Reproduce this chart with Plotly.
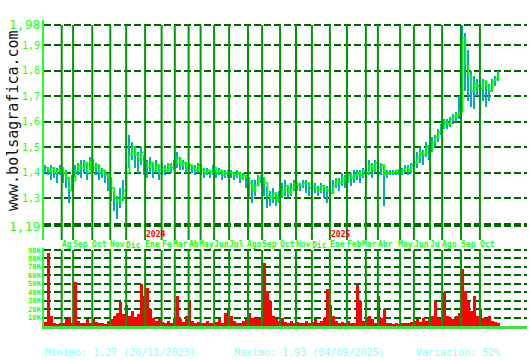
import plotly.graph_objects as go

# ---------------- data ----------------
cierre = [1.42,1.41,1.42,1.40,1.41,1.42,1.40,1.38,1.33,1.37,
          1.41,1.43,1.42,1.44,1.40,1.45,1.42,1.43,1.40,1.41,
          1.39,1.38,1.34,1.30,1.28,1.30,1.33,1.40,1.47,1.50,
          1.47,1.45,1.48,1.44,1.42,1.44,1.41,1.43,1.40,1.42,
          1.41,1.43,1.42,1.44,1.46,1.43,1.44,1.42,1.43,1.42,
          1.41,1.43,1.41,1.40,1.41,1.40,1.42,1.40,1.41,1.39,
          1.40,1.40,1.40,1.39,1.40,1.38,1.39,1.38,1.36,1.33,
          1.35,1.38,1.38,1.36,1.31,1.30,1.32,1.29,1.31,1.33,
          1.35,1.32,1.34,1.36,1.35,1.35,1.36,1.36,1.34,1.35,
          1.34,1.33,1.35,1.34,1.33,1.32,1.35,1.37,1.36,1.38,
          1.37,1.39,1.38,1.39,1.40,1.39,1.41,1.40,1.43,1.41,
          1.44,1.42,1.43,1.39,1.40,1.40,1.40,1.41,1.40,1.41,
          1.42,1.41,1.43,1.44,1.46,1.48,1.47,1.50,1.49,1.52,
          1.54,1.56,1.58,1.60,1.59,1.61,1.62,1.63,1.64,1.93,
          1.82,1.78,1.72,1.75,1.74,1.73,1.76,1.74,1.72,1.76,
          1.77,1.79]
minimo = [1.40,1.39,1.37,1.38,1.36,1.39,1.36,1.34,1.28,1.33,
          1.38,1.39,1.38,1.40,1.37,1.41,1.40,1.39,1.37,1.38,
          1.36,1.33,1.29,1.25,1.22,1.26,1.29,1.35,1.42,1.45,
          1.42,1.40,1.43,1.39,1.38,1.40,1.38,1.40,1.37,1.39,
          1.39,1.40,1.40,1.41,1.42,1.41,1.41,1.40,1.41,1.40,
          1.39,1.40,1.39,1.38,1.39,1.38,1.39,1.38,1.39,1.37,
          1.38,1.38,1.38,1.37,1.38,1.36,1.37,1.34,1.30,1.28,
          1.31,1.35,1.36,1.31,1.26,1.27,1.28,1.27,1.28,1.30,
          1.31,1.30,1.31,1.33,1.33,1.33,1.34,1.32,1.31,1.33,
          1.32,1.31,1.32,1.30,1.28,1.21,1.32,1.34,1.33,1.35,
          1.34,1.36,1.35,1.36,1.37,1.36,1.38,1.37,1.39,1.38,
          1.40,1.38,1.39,1.27,1.38,1.39,1.39,1.39,1.39,1.39,
          1.40,1.39,1.40,1.41,1.42,1.44,1.43,1.46,1.45,1.48,
          1.50,1.52,1.55,1.57,1.57,1.58,1.59,1.60,1.61,1.65,
          1.72,1.68,1.66,1.65,1.70,1.62,1.68,1.66,1.68,1.72,
          1.74,1.76]
maximo = [1.43,1.42,1.43,1.42,1.42,1.43,1.42,1.41,1.38,1.39,
          1.43,1.44,1.45,1.45,1.44,1.46,1.45,1.44,1.43,1.42,
          1.41,1.40,1.36,1.33,1.31,1.34,1.37,1.44,1.55,1.52,
          1.50,1.48,1.50,1.47,1.45,1.46,1.44,1.45,1.43,1.44,
          1.43,1.44,1.44,1.45,1.48,1.46,1.45,1.44,1.44,1.43,
          1.43,1.44,1.42,1.42,1.42,1.41,1.43,1.41,1.42,1.41,
          1.41,1.41,1.41,1.40,1.41,1.40,1.40,1.39,1.38,1.37,
          1.37,1.39,1.39,1.38,1.35,1.33,1.34,1.32,1.33,1.36,
          1.37,1.35,1.36,1.37,1.36,1.36,1.37,1.37,1.36,1.36,
          1.36,1.35,1.36,1.35,1.35,1.36,1.37,1.38,1.38,1.40,
          1.39,1.40,1.40,1.41,1.41,1.41,1.42,1.42,1.45,1.44,
          1.45,1.44,1.44,1.43,1.41,1.41,1.41,1.41,1.41,1.42,
          1.43,1.43,1.44,1.46,1.48,1.50,1.49,1.52,1.51,1.54,
          1.55,1.57,1.59,1.61,1.61,1.62,1.63,1.64,1.70,1.98,
          1.95,1.88,1.80,1.78,1.77,1.76,1.77,1.76,1.75,1.77,
          1.78,1.80]
volumen_k = [5,87,12,3,2,4,3,8,10,4,
             52,6,4,3,8,3,10,5,4,3,
             2,6,8,12,15,29,14,25,12,18,
             10,14,50,35,45,20,10,6,8,5,
             4,6,3,10,35,8,5,12,30,6,
             4,5,3,4,6,3,4,5,8,4,
             15,20,12,6,4,3,6,8,15,10,
             10,8,8,75,42,30,12,8,6,10,
             5,4,6,3,5,4,3,6,4,5,
             8,4,6,10,44,25,12,6,4,5,
             3,6,4,3,48,30,6,10,12,8,
             4,35,10,20,4,3,2,3,2,3,
             4,3,5,6,8,5,10,6,8,12,
             30,10,8,40,12,10,8,12,15,68,
             42,30,18,35,12,20,10,8,12,6,
             5,4]

meses = ["Ag","Sep","Oct","Nov","Dic","Ene","Fe","Mar","Ab","May","Jun","Jul",
         "Ago","Sep","Oct","Nov","Dic","Ene","Feb","Mar","Abr","May","Jun","Ju",
         "Ago","Sep","Oct"]
mes_inicio = [5.4,9.2,15.6,21.6,26.9,33.2,38.7,43.1,47.7,51.7,56.2,61.2,
              67.5,72.2,78.2,83.5,88.8,94.8,100.5,106.8,110.8,118.2,122.8,128.2,
              132.2,138.5,144.8]
anios = ["2024", "2025"]
anio_inicio = [33.2, 94.8]

precio_ticks = [1.98,1.9,1.8,1.7,1.6,1.5,1.4,1.3,1.2,1.19]
precio_labels = ["1,98","1,9","1,8","1,7","1,6","1,5","1,4","1,3","","1,19"]
vol_ticks = [10,20,30,40,50,60,70,80,90]
vol_labels = ["10K","20K","30K","40K","50K","60K","70K","80K","90K"]

pie = ["Minimo: 1,27 (20/11/2023)", "Maximo: 1,93 (04/09/2025)", "Variación: 52%"]

# ---------------- figure ----------------
W, H = 530, 360
idx = list(range(len(cierre)))
MONO = "DejaVu Sans Mono"
LIME = "#22ff22"
GRID = "#006600"
VLINE = "#009900"
YMIN = 1.1362
XR = [-0.5, 160.5]
PX_PER_UNIT = (527 - 44) / (XR[1] - XR[0])
MES_FONT = 8
CHAR_W = 0.602 * MES_FONT

def px_x(p):
    return p / W

def px_y(p):
    return 1 - p / H

fig = go.Figure()

fig.add_trace(go.Bar(x=idx, y=[h - l for h, l in zip(maximo, minimo)], base=minimo,
                     marker=dict(color="#00aabb", line=dict(width=0)), width=0.45,
                     xaxis="x", yaxis="y", hoverinfo="skip"))
fig.add_trace(go.Scatter(x=idx, y=cierre, mode="lines", line=dict(color="#00ff00", width=1.6, shape="hv"),
                         xaxis="x", yaxis="y"))
fig.add_trace(go.Bar(x=idx, y=volumen_k, marker=dict(color="#ff0000", line=dict(width=0)), width=0.7,
                     xaxis="x2", yaxis="y2"))

shapes = []
for m in mes_inicio:
    shapes.append(dict(type="line", xref="x", yref="y", x0=m, x1=m, y0=1.98, y1=YMIN,
                       line=dict(color=VLINE, width=2)))
    shapes.append(dict(type="line", xref="x2", yref="y2", x0=m, x1=m, y0=0, y1=90,
                       line=dict(color=VLINE, width=2)))

annotations = []
for v, t in zip(precio_ticks, precio_labels):
    if not t:
        continue
    big = t in ("1,98", "1,19")
    annotations.append(dict(text=t, xref="paper", yref="y", x=px_x(42), y=v, xanchor="right",
                            yanchor="middle", showarrow=False,
                            font=dict(family=MONO, size=13 if big else 10, color=LIME)))
for v, t in zip(vol_ticks, vol_labels):
    annotations.append(dict(text="<b>" + t + "</b>", xref="paper", yref="y2", x=px_x(43), y=v,
                            xanchor="right", yanchor="middle", showarrow=False, borderpad=0,
                            font=dict(family=MONO, size=7.2, color=LIME)))
for i, (m, t) in enumerate(zip(mes_inicio, meses)):
    shift = -1
    if i + 1 < len(mes_inicio):
        gap = (mes_inicio[i + 1] - m) * PX_PER_UNIT
        need = len(t) * CHAR_W + 1
        if need > gap:
            shift -= (need - gap)
    annotations.append(dict(text="<b>" + t + "</b>", xref="x", yref="paper", x=m, y=px_y(244.5),
                            xanchor="left", yanchor="middle", showarrow=False, xshift=shift,
                            borderpad=0, font=dict(family=MONO, size=MES_FONT, color=LIME)))
for m, t in zip(anio_inicio, anios):
    annotations.append(dict(text="<b>" + t + "</b>", xref="x", yref="paper", x=m, y=px_y(234.5),
                            xanchor="left", yanchor="middle", showarrow=False, xshift=-1,
                            font=dict(family=MONO, size=8, color="#ff0000")))
for xp, t in zip([43, 232, 414], pie):
    annotations.append(dict(text=t, xref="paper", yref="paper", x=px_x(xp), y=px_y(352),
                            xanchor="left", yanchor="middle", showarrow=False,
                            font=dict(family=MONO, size=10, color="#88ffff")))
annotations.append(dict(text="www.bolsagrafica.com", xref="paper", yref="paper", x=px_x(13),
                        y=px_y(121), xanchor="center", yanchor="middle", textangle=-90,
                        showarrow=False, font=dict(family=MONO, size=15, color="#111111")))

fig.update_layout(
    width=W, height=H, margin=dict(l=0, r=0, t=0, b=0),
    paper_bgcolor="white", plot_bgcolor="white", showlegend=False, bargap=0,
    xaxis=dict(domain=[px_x(44), px_x(527)], range=XR, showticklabels=False, showgrid=False,
               zeroline=False, anchor="y", fixedrange=True),
    yaxis=dict(domain=[px_y(240), px_y(20)], range=[YMIN, 1.9996], tickvals=precio_ticks,
               showticklabels=False, showgrid=True, gridcolor=GRID, gridwidth=1.5, griddash="7px,3px",
               zeroline=False, showline=True, linecolor=LIME, linewidth=1.5, anchor="x"),
    xaxis2=dict(domain=[px_x(44), px_x(527)], range=XR, showticklabels=False, showgrid=False,
                zeroline=False, anchor="y2", showline=True, linecolor="#44dd44", linewidth=2.5),
    yaxis2=dict(domain=[px_y(326), px_y(248)], range=[0, 92.4], tickvals=vol_ticks,
                showticklabels=False, showgrid=True, gridcolor=GRID, gridwidth=1.5, griddash="7px,3px",
                zeroline=False, showline=True, linecolor=LIME, linewidth=1.5, anchor="x2"),
    shapes=shapes, annotations=annotations,
)

fig.write_html("out.html")
